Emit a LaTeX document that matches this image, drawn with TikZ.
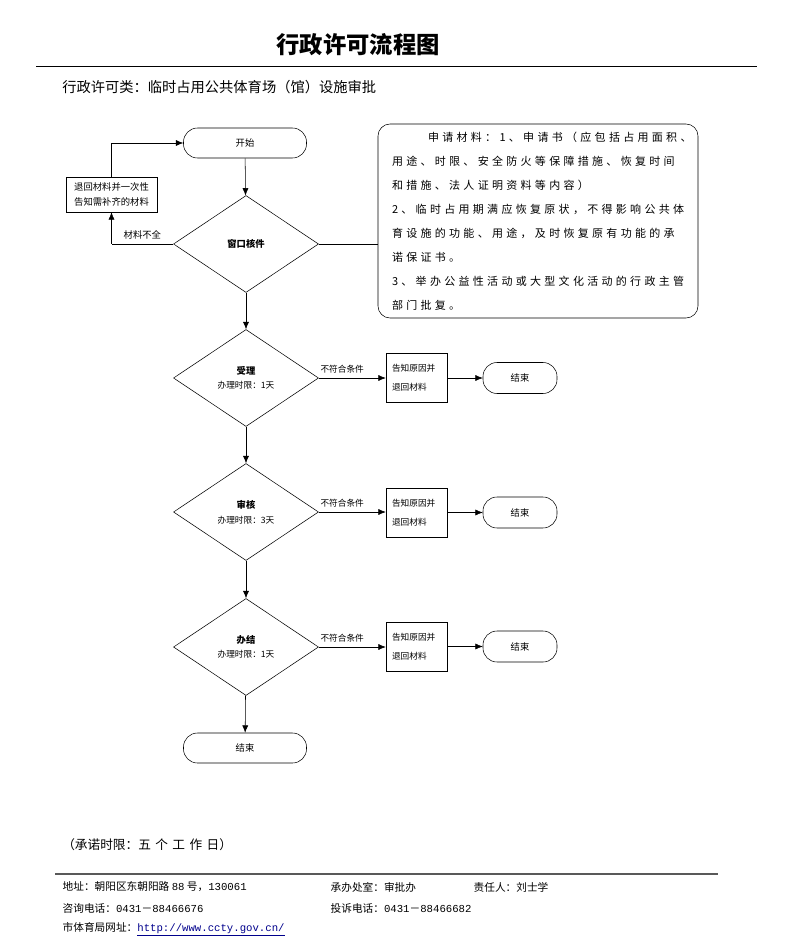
\documentclass[tikz,border=0pt]{standalone}
\usepackage{fontspec}
\setmainfont{Noto Sans CJK SC}
\setmonofont{Liberation Mono}
\newfontfamily\notefont[LetterSpace=30]{Noto Sans CJK SC}
\newfontfamily\wideday[LetterSpace=35]{Noto Sans CJK SC}
\usetikzlibrary{%
  arrows.meta,%
  shapes.geometric%
}
\tikzset{>={Latex[length=5.5pt,width=4.5pt]}}
\tikzset{
  term/.style={draw,rectangle,rounded corners=10.5pt,minimum width=92.25pt,
    minimum height=22.5pt,inner sep=0pt,font=\fontsize{7}{8}\selectfont},
  smallterm/.style={term,minimum width=55.5pt,minimum height=23.25pt},
  decision/.style={draw,diamond,minimum width=108.75pt,minimum height=72.75pt,
    inner sep=0pt,align=center,font=\fontsize{6.5}{11}\selectfont},
  tellbox/.style={draw,rectangle,minimum height=36.75pt,inner xsep=4.5pt,
    text width=36.75pt,align=left,font=\fontsize{6.5}{14.25}\selectfont},
  label/.style={font=\fontsize{6.5}{8}\selectfont},
  footline/.style={anchor=west,font=\fontsize{8}{9}\selectfont}
}
\newcommand\ttnum[1]{{\ttfamily #1}}

\begin{document}
\begin{tikzpicture}[x=0.75pt,y=-0.75pt]
    \useasboundingbox (0,0) rectangle (794,952);

    \node (title) at (358,45) {\fontsize{17.5}{20}\selectfont\bfseries 行政许可流程图};
    \draw (36,66) -- (757,66);
    \node[anchor=west,inner sep=0pt] (kind) at (62,87)
      {\fontsize{10.7}{12}\selectfont 行政许可类：临时占用公共体育场（馆）设施审批};

    \node[term] (start) at (245,143) {开始};
    \node[decision] (check) at (246,244) {\fontsize{7}{8}\selectfont\bfseries 窗口核件};
    \node[draw,rectangle,minimum width=68.25pt,minimum height=26.25pt,inner sep=0pt,
      align=center,font=\fontsize{7}{11}\selectfont] (ret) at (111.5,194.5)
      {退回材料并一次性\\告知需补齐的材料};
    \node[draw,rectangle,rounded corners=9pt,minimum width=240pt,minimum height=145.5pt,
      inner sep=0pt,text width=219pt,align=left,
      font=\notefont\fontsize{8.25}{18}\selectfont] (note) at (538,221)
      {\hspace*{27pt}申请材料：1、申请书（应包括占用面积、\\
       用途、时限、安全防火等保障措施、恢复时间\\
       和措施、法人证明资料等内容）\\
       2、临时占用期满应恢复原状，不得影响公共体\\
       育设施的功能、用途，及时恢复原有功能的承\\
       诺保证书。\\
       3、举办公益性活动或大型文化活动的行政主管\\
       部门批复。};

    \draw[->] (start) -- (check);
    \draw (check.west) -- node[above,font=\fontsize{7}{8}\selectfont] {材料不全} (ret.south |- check.west);
    \draw[->] (ret.south |- check.west) -- (ret.south);
    \draw (ret.north) -- (ret.north |- start.west);
    \draw[->] (ret.north |- start.west) -- (start.west);
    \draw (check.east) -- (check.east -| note.west);

    \node[decision] (accept) at (246,378) {{\fontsize{7}{8}\selectfont\bfseries 受理}\\办理时限：1天};
    \node[tellbox] (tell1) at (416.5,377.5) {告知原因并\\退回材料};
    \node[smallterm] (end1) at (520,378) {结束};

    \node[decision] (review) at (246,512) {{\fontsize{7}{8}\selectfont\bfseries 审核}\\办理时限：3天};
    \node[tellbox] (tell2) at (416.5,512.5) {告知原因并\\退回材料};
    \node[smallterm] (end2) at (520,512.5) {结束};

    \node[decision] (finish) at (246,647) {{\fontsize{7}{8}\selectfont\bfseries 办结}\\办理时限：1天};
    \node[tellbox] (tell3) at (416.5,646.5) {告知原因并\\退回材料};
    \node[smallterm] (end3) at (520,646.5) {结束};

    \node[term] (stop) at (245,748) {结束};

    \draw[->] (check) -- (accept);
    \draw[->] (accept) -- (review);
    \draw[->] (review) -- (finish);
    \draw[->] (finish) -- (stop);

    \draw[->] (accept.east) -- node[above,label,pos=0.35] {不符合条件} (accept.east -| tell1.west);
    \draw[->] (review.east) -- node[above,label,pos=0.35] {不符合条件} (review.east -| tell2.west);
    \draw[->] (finish.east) -- node[above,label,pos=0.35] {不符合条件} (finish.east -| tell3.west);
    \draw[->] (tell1.east |- end1.west) -- (end1.west);
    \draw[->] (tell2.east |- end2.west) -- (end2.west);
    \draw[->] (tell3.east |- end3.west) -- (end3.west);

    \node[anchor=west,inner sep=0pt] (limit) at (62,845)
      {\fontsize{9.5}{11}\selectfont （承诺时限：{\wideday 五个工作日}）};
    \draw[line width=1.5pt,black!65] (55,874) -- (718,874);

    \node[footline] (addr) at (58,887) {地址：朝阳区东朝阳路 \ttnum{88} 号，\ttnum{130061}};
    \node[footline] (office) at (326,887) {承办处室：审批办};
    \node[footline] (chief) at (469,887) {责任人：刘士学};
    \node[footline] (phone) at (58,908) {咨询电话：\ttnum{0431}－\ttnum{88466676}};
    \node[footline] (plaint) at (326,908) {投诉电话：\ttnum{0431}－\ttnum{88466682}};
    \node[footline] (web) at (58,929)
      {市体育局网址：\textcolor{blue!55!black}{\underline{\ttnum{http://www.ccty.gov.cn/}}}};
\end{tikzpicture}
\end{document}
